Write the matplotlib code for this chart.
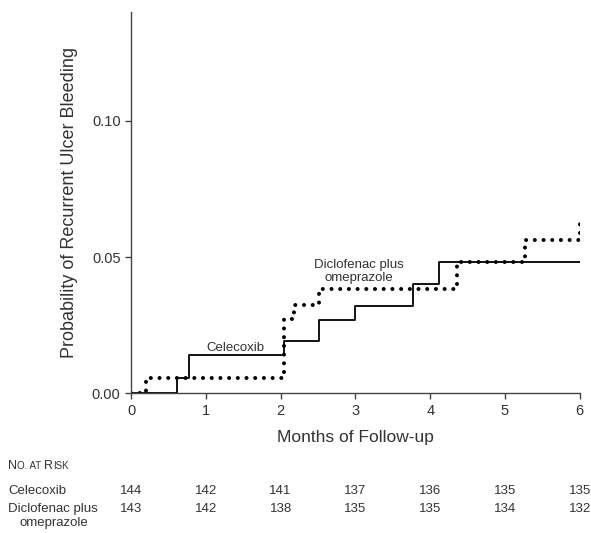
import matplotlib
matplotlib.use('Agg')
import matplotlib.pyplot as plt
import matplotlib.transforms as mtransforms

plt.rcParams['font.family'] = ['Liberation Sans', 'DejaVu Sans']

# Kaplan-Meier style step data (month, cumulative probability)
celecoxib_t = [0, 0.62, 0.78, 2.04, 2.52, 2.99, 3.77, 4.12, 6.0]
celecoxib_p = [0.0, 0.0055, 0.0140, 0.0192, 0.0268, 0.0319, 0.0401, 0.0484, 0.0484]

diclo_t = [0, 0.20, 2.04, 2.18, 2.52, 4.36, 5.27, 6.0]
diclo_p = [0.0, 0.0055, 0.0273, 0.0326, 0.0383, 0.0484, 0.0563, 0.0624]

months = [0, 1, 2, 3, 4, 5, 6]
risk_celecoxib = [144, 142, 141, 137, 136, 135, 135]
risk_diclo = [143, 142, 138, 135, 135, 134, 132]

txt = '#333333'

fig = plt.figure(figsize=(5.91, 5.33), dpi=100)
ax = fig.add_axes([0.2217, 0.262, 0.7593, 0.7155])

ax.step(celecoxib_t, celecoxib_p, where='post', color='black', lw=1.3)
ax.step(diclo_t, diclo_p, where='post', color='black', lw=2.9,
        linestyle=(0, (0.01, 2.15)), dash_capstyle='round')

ax.set_xlim(0, 6)
ax.set_ylim(0, 0.14)
ax.set_xticks(months)
ax.set_yticks([0.0, 0.05, 0.10])
ax.set_yticklabels(['0.00', '0.05', '0.10'])
ax.spines['top'].set_visible(False)
ax.spines['right'].set_visible(False)
for s in ['left', 'bottom']:
    ax.spines[s].set_color('#444444')
    ax.spines[s].set_linewidth(1.0)
ax.tick_params(colors='#444444', labelcolor=txt, labelsize=10.5, length=4, width=1)
ax.set_xlabel('Months of Follow-up', fontsize=12.5, color=txt, labelpad=9)
ax.set_ylabel('Probability of Recurrent Ulcer Bleeding', fontsize=13, color=txt, labelpad=10)

# curve labels
ax.text(1.39, 0.0165, 'Celecoxib', fontsize=9.5, color=txt, ha='center', va='center')
ax.text(3.04, 0.0447, 'Diclofenac plus\nomeprazole', fontsize=9.5, color=txt,
        ha='center', va='center', linespacing=1.15)

# number at risk table, heading in small caps
parts = [('N', 9), ('O. AT ', 7), ('R', 9), ('ISK', 7)]
x0 = 8 / 591
yb = 1 - 469 / 533
renderer = fig.canvas.get_renderer()
for s, fs in parts:
    t = fig.text(x0, yb, s, fontsize=fs, color=txt, va='baseline', ha='left')
    bb = t.get_window_extent(renderer=renderer)
    x0 += bb.width / fig.bbox.width

row_y1 = 1 - 491 / 533
row_y2 = 1 - 509 / 533
fig.text(8 / 591, row_y1, 'Celecoxib', fontsize=9.5, color=txt, va='center')
fig.text(8 / 591, row_y2, 'Diclofenac plus', fontsize=9.5, color=txt, va='center')
fig.text(20 / 591, 1 - 523 / 533, 'omeprazole', fontsize=9.5, color=txt, va='center')

trans = mtransforms.blended_transform_factory(ax.transData, fig.transFigure)
for m, a, b in zip(months, risk_celecoxib, risk_diclo):
    fig.text(m, row_y1, str(a), fontsize=9.5, color=txt, ha='center', va='center',
             transform=trans)
    fig.text(m, row_y2, str(b), fontsize=9.5, color=txt, ha='center', va='center',
             transform=trans)

fig.savefig('out.png', dpi=100)
